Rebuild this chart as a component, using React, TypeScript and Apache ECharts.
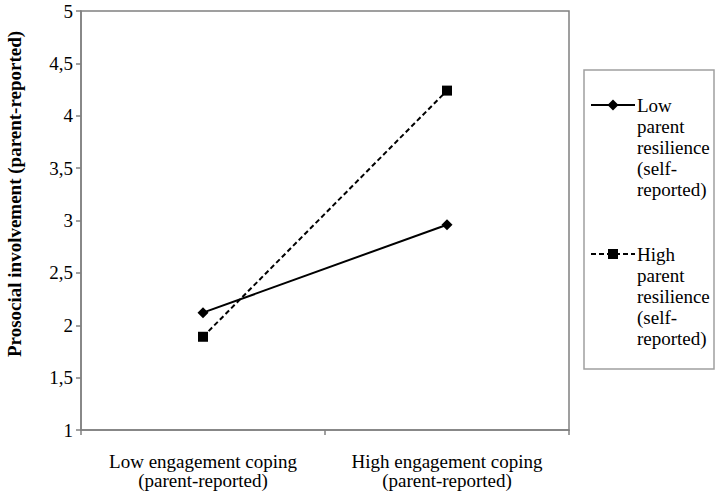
import React, { useEffect, useRef } from "react";
import * as echarts from "echarts";

const categories = [
  "Low engagement coping\n(parent-reported)",
  "High engagement coping\n(parent-reported)",
];
const lowResilience = [2.12, 2.96];
const highResilience = [1.89, 4.24];
const seriesNames = [
  "Low parent resilience (self-reported)",
  "High parent resilience (self-reported)",
];
const legendLabels = [
  "Low\nparent\nresilience\n(self-\nreported)",
  "High\nparent\nresilience\n(self-\nreported)",
];
const yAxisTitle = "Prosocial involvement (parent-reported)";

const FONT = "Liberation Serif";
const AXIS_COLOR = "#808080";

export default function App() {
  const ref = useRef<HTMLDivElement>(null);
  useEffect(() => {
    if (!ref.current) return;
    const chart = echarts.init(ref.current, null, { renderer: "svg" });
    const legY1 = 105;
    const legY2 = 254;
    const txt = (text: string, x: number, y: number, extra: any = {}) => ({
      type: "text",
      x,
      y,
      style: {
        text,
        fontFamily: FONT,
        fontSize: 19,
        lineHeight: 21,
        fill: "#000",
        align: "left",
        verticalAlign: "top",
        ...extra,
      },
    });
    chart.setOption({
      animation: false,
      backgroundColor: "#ffffff",
      textStyle: { fontFamily: FONT },
      grid: {
        left: 81,
        top: 11,
        right: 150,
        bottom: 61,
        show: true,
        borderColor: AXIS_COLOR,
        borderWidth: 1.5,
        backgroundColor: "transparent",
      },
      xAxis: {
        type: "category",
        data: categories,
        boundaryGap: true,
        axisLine: { show: true, lineStyle: { color: AXIS_COLOR, width: 1.5 } },
        axisTick: { show: true, alignWithLabel: false, length: 5, lineStyle: { color: AXIS_COLOR, width: 1.5 } },
        axisLabel: {
          interval: 0,
          color: "#000",
          fontFamily: FONT,
          fontSize: 19,
          lineHeight: 19,
          margin: 22,
        },
        splitLine: { show: false },
      },
      yAxis: {
        type: "value",
        min: 1,
        max: 5,
        interval: 0.5,
        axisLine: { show: true, lineStyle: { color: AXIS_COLOR, width: 1.5 } },
        axisTick: { show: true, length: 5, lineStyle: { color: AXIS_COLOR, width: 1.5 } },
        axisLabel: {
          color: "#000",
          fontFamily: FONT,
          fontSize: 19,
          margin: 8,
          formatter: (v: number) => String(v).replace(".", ","),
        },
        splitLine: { show: false },
      },
      series: [
        {
          name: seriesNames[0],
          type: "line",
          data: lowResilience,
          symbol: "diamond",
          symbolSize: 11,
          itemStyle: { color: "#000" },
          lineStyle: { color: "#000", width: 2, type: "solid" },
        },
        {
          name: seriesNames[1],
          type: "line",
          data: highResilience,
          symbol: "rect",
          symbolSize: 10,
          itemStyle: { color: "#000" },
          lineStyle: { color: "#000", width: 2, type: [5, 3] },
        },
      ],
      graphic: [
        {
          type: "text",
          x: 14,
          y: 194,
          rotation: Math.PI / 2,
          style: {
            text: yAxisTitle,
            fontFamily: FONT,
            fontSize: 19,
            fontWeight: "bold",
            fill: "#000",
            align: "center",
            verticalAlign: "middle",
          },
        },
        {
          type: "rect",
          shape: { x: 584, y: 70, width: 130, height: 299 },
          style: { fill: "#fff", stroke: "#a0a0a0", lineWidth: 1.5 },
        },
        {
          type: "line",
          shape: { x1: 591, y1: legY1, x2: 635, y2: legY1 },
          style: { stroke: "#000", lineWidth: 2 },
        },
        {
          type: "polygon",
          shape: {
            points: [
              [613, legY1 - 5.5],
              [618.5, legY1],
              [613, legY1 + 5.5],
              [607.5, legY1],
            ],
          },
          style: { fill: "#000" },
        },
        txt(legendLabels[0], 637, legY1 - 10.5),
        {
          type: "line",
          shape: { x1: 591, y1: legY2, x2: 635, y2: legY2 },
          style: { stroke: "#000", lineWidth: 2, lineDash: [5, 3] },
        },
        {
          type: "rect",
          shape: { x: 608, y: legY2 - 5, width: 10, height: 10 },
          style: { fill: "#000" },
        },
        txt(legendLabels[1], 637, legY2 - 10.5),
      ],
    });
    return () => chart.dispose();
  }, []);
  return <div ref={ref} style={{ width: 719, height: 491, position: "fixed", left: 0, top: 0 }} />;
}
